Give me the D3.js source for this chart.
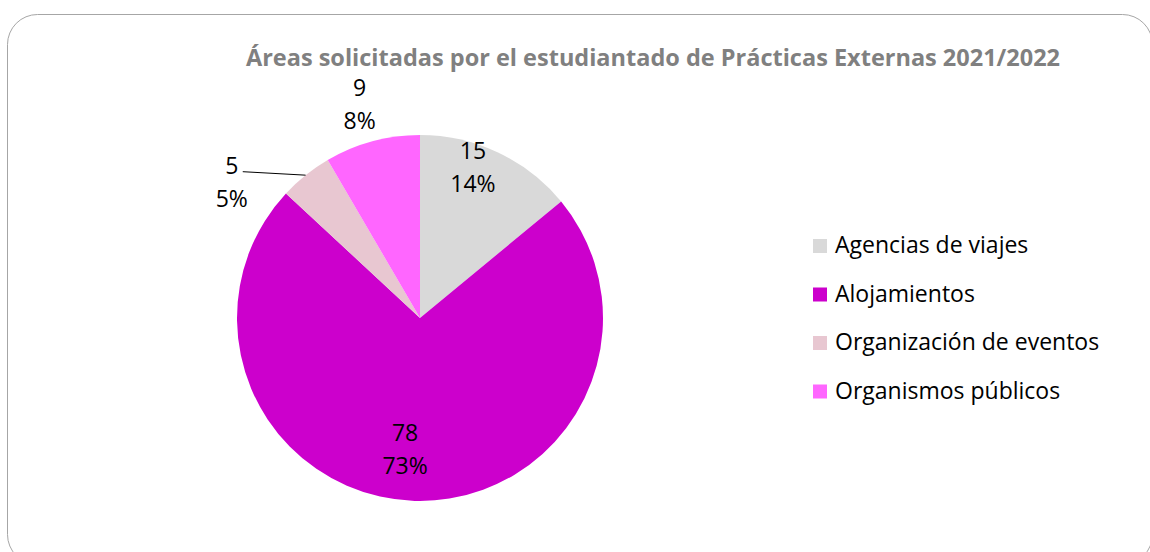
<!DOCTYPE html>
<html>
<head>
<meta charset="utf-8">
<script src="https://cdn.jsdelivr.net/npm/d3@7"></script>
<style>
  body { margin: 0; background: #fff; }
  svg { display: block; font-family: "Open Sans", Lato, sans-serif; }
</style>
</head>
<body>
<svg width="1150" height="552"></svg>
<script>
// data
var categories = ["Agencias de viajes", "Alojamientos", "Organización de eventos", "Organismos públicos"];
var values = [15, 78, 5, 9];
var colors = ["#d9d9d9", "#cc00cc", "#e8c7d1", "#ff66ff"];
var title = "Áreas solicitadas por el estudiantado de Prácticas Externas 2021/2022";

// label placement (radius factor, angle shift in degrees) per slice, like excel's best fit
var labelRadius = [0.874, 0.72, 1.27, 1.215];
var labelShift = [-5.9, 4.8, -15.4, -0.6];

var svg = d3.select('svg');

svg.append("rect")
  .attr("x", 7.5).attr("y", 14.5)
  .attr("width", 1145).attr("height", 550)
  .attr("rx", 30).attr("ry", 30)
  .attr("fill", "#fff")
  .attr("stroke", "#a6a6a6")
  .attr("stroke-width", 1);

svg.append("text")
  .attr("x", 653).attr("y", 66)
  .attr("text-anchor", "middle")
  .attr("font-size", 23.5)
  .attr("font-weight", "bold")
  .attr("fill", "#808080")
  .text(title);

var cx = 420, cy = 318, r = 183;
var total = d3.sum(values);

var pie = d3.pie().sort(null).value(function(d) { return d; });
var arcs = pie(values);
var arc = d3.arc().innerRadius(0).outerRadius(r);

var g = svg.append("g").attr("transform", "translate(" + cx + "," + cy + ")");

g.selectAll("path.slice")
  .data(arcs)
  .enter().append("path")
  .attr("class", "slice")
  .attr("d", arc)
  .attr("fill", function(d, i) { return colors[i]; });

var fmt = d3.format(".0%");

arcs.forEach(function(d, i) {
  var mid = (d.startAngle + d.endAngle) / 2 + labelShift[i] * Math.PI / 180;
  var lr = r * labelRadius[i];
  var x = Math.sin(mid) * lr;
  var y = -Math.cos(mid) * lr;
  var t = g.append("text")
    .attr("text-anchor", "middle")
    .attr("font-size", 23)
    .attr("fill", "#000");
  t.append("tspan").attr("x", x).attr("y", y - 8).text(values[i]);
  t.append("tspan").attr("x", x).attr("y", y + 25).text(fmt(values[i] / total));

  // leader line for small outside label
  if (labelRadius[i] > 1 && values[i] < 8) {
    var m2 = (d.startAngle + d.endAngle) / 2;
    var ex = Math.sin(m2) * r, ey = -Math.cos(m2) * r;
    g.append("path")
      .attr("d", "M" + (x + 11) + "," + (y - 10) + "L" + ex + "," + ey)
      .attr("stroke", "#000")
      .attr("fill", "none")
      .attr("stroke-width", 1);
  }
});

// legend
var legend = svg.append("g").attr("transform", "translate(813,239)");
var rows = legend.selectAll("g")
  .data(categories)
  .enter().append("g")
  .attr("transform", function(d, i) { return "translate(0," + (i * 48.5) + ")"; });
rows.append("rect")
  .attr("width", 14).attr("height", 14)
  .attr("fill", function(d, i) { return colors[i]; });
rows.append("text")
  .attr("x", 22).attr("y", 14)
  .attr("font-size", 23)
  .attr("fill", "#000")
  .text(function(d) { return d; });
</script>
</body>
</html>
